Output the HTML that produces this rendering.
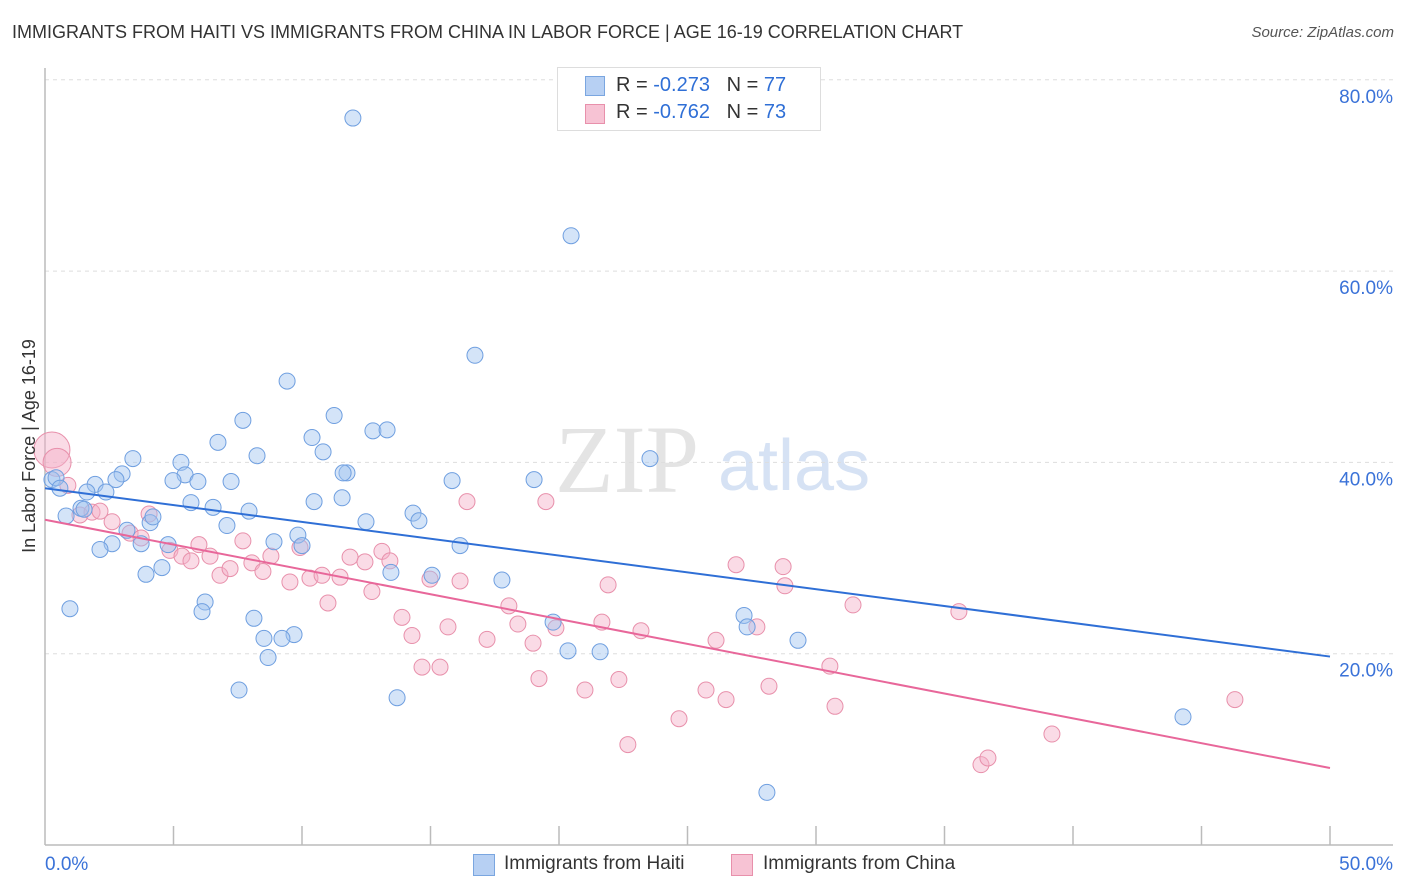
<!DOCTYPE html>
<html><head><meta charset="utf-8"><style>
body{margin:0;background:#fff;font-family:"Liberation Sans",sans-serif;}
#wrap{position:relative;width:1406px;height:892px;overflow:hidden;}
.t{position:absolute;white-space:nowrap;}
</style></head><body>
<div id="wrap">
<div class="t" style="left:12px;top:22px;font-size:18px;color:#333;">IMMIGRANTS FROM HAITI VS IMMIGRANTS FROM CHINA IN LABOR FORCE | AGE 16-19 CORRELATION CHART</div>
<div class="t" style="right:12px;top:24px;font-size:15px;color:#555;font-style:italic;">Source: ZipAtlas.com</div>
<svg id="plot" width="1406" height="892" style="position:absolute;left:0;top:0">
<text x="555" y="492" font-size="96" fill="#e4e4e4" font-family="Liberation Serif,serif">ZIP</text>
<text x="718" y="490" font-size="72" fill="#d6e2f4" font-family="Liberation Sans,sans-serif">atlas</text>
<g id="grid"></g><g id="pts"></g><g id="lines"></g>
<text x="12" y="0" transform="translate(35,458) rotate(-90)" text-anchor="middle" font-size="18" fill="#333">In Labor Force | Age 16-19</text>
</svg>
<div class="t" style="left:557px;top:67px;width:262px;height:62px;border:1px solid #ddd;background:#fff;">
 <div style="position:absolute;left:27px;top:8px;width:18px;height:18px;background:#b7d0f3;border:1px solid #7aa6e0"></div>
 <div class="t" style="left:58px;top:6px;font-size:20px;color:#333">R = <span style="color:#2f6fd6">-0.273</span>&nbsp;&nbsp;&nbsp;N = <span style="color:#2f6fd6">77</span></div>
 <div style="position:absolute;left:27px;top:36px;width:18px;height:18px;background:#f7c3d4;border:1px solid #e890ab"></div>
 <div class="t" style="left:58px;top:33px;font-size:20px;color:#333">R = <span style="color:#2f6fd6">-0.762</span>&nbsp;&nbsp;&nbsp;N = <span style="color:#2f6fd6">73</span></div>
</div>
<div style="position:absolute;left:473px;top:854px;width:20px;height:20px;background:#b7d0f3;border:1px solid #7aa6e0"></div>
<div class="t" style="left:504px;top:853px;font-size:19px;color:#333">Immigrants from Haiti</div>
<div style="position:absolute;left:731px;top:854px;width:20px;height:20px;background:#f7c3d4;border:1px solid #e890ab"></div>
<div class="t" style="left:763px;top:853px;font-size:19px;color:#333">Immigrants from China</div>
</div>
<script>
const yTicks=[20,40,60,80];
const xTickLabels=["0.0%","50.0%"];
const haitiX=[11.98,20.47,16.73,9.42,11.25,7.70,6.73,10.39,12.76,13.31,8.25,10.82,3.42,5.29,23.54,5.45,3.00,2.76,4.98,5.95,7.24,15.84,19.03,11.75,11.6,1.95,0.27,0.43,0.58,1.63,2.37,5.68,6.54,10.47,11.56,14.32,14.55,7.94,12.49,7.08,4.09,4.20,3.19,1.40,1.52,0.82,9.84,16.15,8.91,10.0,3.74,2.61,2.14,4.79,4.55,3.93,13.46,15.06,17.78,6.23,6.11,0.97,8.13,9.69,9.22,8.52,8.68,19.77,27.2,27.32,29.3,20.35,21.6,7.55,13.7,44.28,28.09];
const haitiY=[76.0,63.7,51.2,48.5,44.9,44.4,42.1,42.6,43.3,43.4,40.7,41.1,40.4,40.0,40.4,38.7,38.8,38.2,38.1,38.0,38.0,38.1,38.2,38.9,38.9,37.7,38.2,38.4,37.3,36.9,36.9,35.8,35.3,35.9,36.3,34.7,33.9,34.9,33.8,33.4,33.7,34.3,32.9,35.2,35.1,34.4,32.4,31.3,31.7,31.3,31.5,31.5,30.9,31.4,29.0,28.3,28.5,28.2,27.7,25.4,24.4,24.7,23.7,22.0,21.6,21.6,19.6,23.3,24.0,22.8,21.4,20.3,20.2,16.2,15.4,13.4,5.5];
const chinaX=[0.27,0.47,0.89,1.36,1.83,2.14,2.61,3.31,3.74,4.05,4.86,5.33,5.68,5.99,6.42,6.81,7.20,7.70,8.05,8.48,8.79,9.53,9.92,10.31,10.78,11.01,11.48,11.87,12.45,12.72,13.11,13.42,13.89,14.28,14.67,15.37,14.98,15.68,16.15,16.42,17.2,18.05,18.40,18.99,19.22,19.49,19.88,21.01,21.67,21.91,22.33,22.68,23.19,24.67,25.72,26.11,26.50,26.89,27.70,28.17,28.72,28.79,30.54,30.74,31.44,35.56,36.42,36.69,39.18,46.30];
const chinaY=[41.3,40.0,37.6,34.5,34.8,34.9,33.8,32.6,32.1,34.6,30.8,30.2,29.7,31.4,30.2,28.2,28.9,31.8,29.5,28.6,30.2,27.5,31.1,27.9,28.2,25.3,28.0,30.1,29.6,26.5,30.7,29.7,23.8,21.9,18.6,18.6,27.8,22.8,27.6,35.9,21.5,25.0,23.1,21.1,17.4,35.9,22.7,16.2,23.3,27.2,17.3,10.5,22.4,13.2,16.2,21.4,15.2,29.3,22.8,16.6,29.1,27.1,18.7,14.5,25.1,24.4,8.4,9.1,11.6,15.2];
const haitiTrend=[37.3,19.7];
const chinaTrend=[34.0,8.05];
const NS="http://www.w3.org/2000/svg";
const X0=45,X1=1330,Y0=845,PX20=191.3;
function sx(v){return X0+(X1-X0)*v/50;}
function sy(v){return Y0-v*PX20/20;}
function mk(tag,attrs,parent){const e=document.createElementNS(NS,tag);for(const k in attrs)e.setAttribute(k,attrs[k]);parent.appendChild(e);return e;}
const grid=document.getElementById('grid');
yTicks.forEach(t=>{
 const l=mk('line',{x1:X0,x2:1393,y1:sy(t),y2:sy(t),stroke:'#ddd','stroke-dasharray':'4 4'},grid);
 
 
 const tx=mk('text',{x:1393,y:sy(t)+23,'text-anchor':'end','font-size':19,fill:'#3a72d8'},grid);
 tx.textContent=t.toFixed(1)+'%';
 
 
});
const ax=mk('line',{x1:X0,x2:1393,y1:Y0,y2:Y0,stroke:'#bbb','stroke-width':1.5},grid);


const ay=mk('line',{x1:X0,x2:X0,y1:68,y2:Y0,stroke:'#bbb','stroke-width':1.5},grid);


for(let i=1;i<=10;i++){
 const tk=mk('line',{x1:sx(i*5),x2:sx(i*5),y1:826,y2:Y0,stroke:'#bbb','stroke-width':1.5},grid);
 
 
}
[[0,'start',45],[50,'end',1393]].forEach((a,i)=>{
 const tx=mk('text',{x:a[2],y:870,'text-anchor':a[1],'font-size':19,fill:'#3a72d8'},grid);
 tx.textContent=xTickLabels[i];
 
 
});
const pts=document.getElementById('pts');
chinaX.forEach((x,i)=>{
 const r=i==0?18:(i==1?14:8);
 const c=mk('circle',{cx:sx(x),cy:sy(chinaY[i]),r:r,fill:'rgba(244,176,200,0.45)',stroke:'#e890ab','stroke-width':1},pts);
 
 
});
haitiX.forEach((x,i)=>{
 const c=mk('circle',{cx:sx(x),cy:sy(haitiY[i]),r:8,fill:'rgba(160,196,240,0.45)',stroke:'#6f9fe0','stroke-width':1},pts);
 
 
});
const lines=document.getElementById('lines');
const lb=mk('line',{x1:sx(0),y1:sy(haitiTrend[0]),x2:sx(50),y2:sy(haitiTrend[1]),stroke:'#2f6fd6','stroke-width':2},lines);


const lp=mk('line',{x1:sx(0),y1:sy(chinaTrend[0]),x2:sx(50),y2:sy(chinaTrend[1]),stroke:'#e8679a','stroke-width':2},lines);


</script>
</body></html>
